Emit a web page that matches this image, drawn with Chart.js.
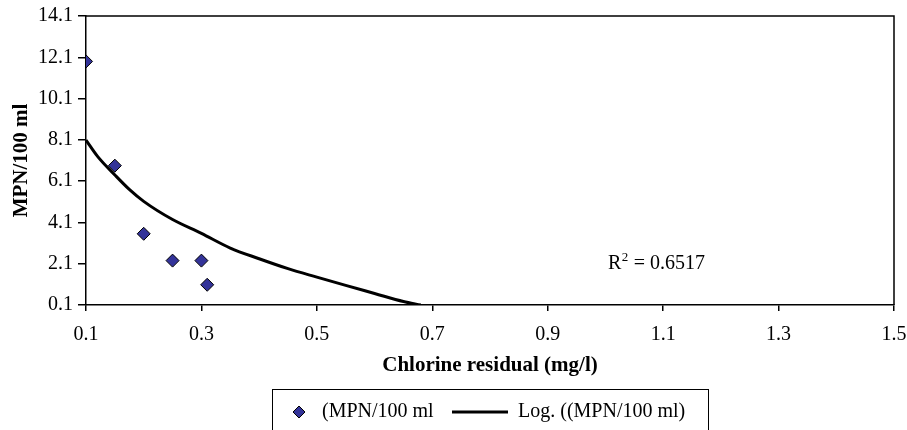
<!DOCTYPE html>
<html>
<head>
<meta charset="utf-8">
<script src="https://cdn.jsdelivr.net/npm/chart.js@4/dist/chart.umd.min.js"></script>
<style>
html,body{margin:0;padding:0;background:#fff;}
#wrap{width:907px;height:430px;position:relative;}
</style>
</head>
<body>
<div id="wrap"><canvas id="c" width="907" height="430"></canvas></div>
<script>
// ---- data ----
const chlorineResidual = [0.10, 0.15, 0.20, 0.25, 0.30, 0.31];
const mpnValues        = [11.9, 6.85, 3.55, 2.25, 2.25, 1.08];
const trendX = [0.10, 0.12, 0.15, 0.175, 0.20, 0.25, 0.30, 0.35, 0.40, 0.45, 0.50, 0.55, 0.60, 0.65, 0.68];
const trendY = [8.09, 7.30, 6.40, 5.70, 5.12, 4.24, 3.57, 2.86, 2.34, 1.86, 1.45, 1.05, 0.66, 0.27, 0.10];
const xTicks = [0.1, 0.3, 0.5, 0.7, 0.9, 1.1, 1.3, 1.5];
const yTicks = [0.1, 2.1, 4.1, 6.1, 8.1, 10.1, 12.1, 14.1];
const seriesLabel = '(MPN/100 ml';
const trendLabel = 'Log. ((MPN/100 ml)';
const rSquaredText = '0.6517';
const xTitle = 'Chlorine residual (mg/l)';
const yTitle = 'MPN/100 ml';

const SERIF = '"Liberation Serif", "Times New Roman", serif';
const MARKER = '#333399';

const framePlugin = {
  id: 'frame',
  afterDraw(chart) {
    const ctx = chart.ctx, a = chart.chartArea;
    ctx.save();
    ctx.strokeStyle = '#000';
    ctx.lineWidth = 1.5;
    ctx.beginPath();
    ctx.moveTo(a.left, a.top);
    ctx.lineTo(a.right, a.top);
    ctx.lineTo(a.right, a.bottom);
    ctx.stroke();

    // R^2 annotation
    ctx.fillStyle = '#000';
    ctx.textBaseline = 'alphabetic';
    ctx.textAlign = 'left';
    let x = 608, y = 269;
    ctx.font = '20px ' + SERIF;
    ctx.fillText('R', x, y);
    x += ctx.measureText('R').width;
    ctx.font = '13px ' + SERIF;
    ctx.fillText('2', x + 0.5, y - 8);
    x += ctx.measureText('2').width + 1;
    ctx.font = '20px ' + SERIF;
    ctx.fillText(' = ' + rSquaredText, x, y);

    // legend box
    ctx.lineWidth = 1;
    ctx.strokeStyle = '#000';
    ctx.strokeRect(272.5, 389.5, 436, 60);
    const ly = 412;
    // marker
    ctx.beginPath();
    ctx.moveTo(299 - 6, ly);
    ctx.lineTo(299, ly - 6);
    ctx.lineTo(299 + 6, ly);
    ctx.lineTo(299, ly + 6);
    ctx.closePath();
    ctx.fillStyle = MARKER;
    ctx.fill();
    ctx.strokeStyle = '#000';
    ctx.lineWidth = 1;
    ctx.stroke();
    ctx.fillStyle = '#000';
    ctx.font = '20px ' + SERIF;
    ctx.textBaseline = 'middle';
    ctx.fillText(chart.data.datasets[0].label, 322, ly);
    // line
    ctx.beginPath();
    ctx.lineWidth = 3;
    ctx.moveTo(452, ly);
    ctx.lineTo(508, ly);
    ctx.stroke();
    ctx.fillText(chart.data.datasets[1].label, 518, ly);
    ctx.restore();
  }
};

new Chart(document.getElementById('c'), {
  type: 'scatter',
  data: {
    datasets: [
      {
        label: seriesLabel,
        data: chlorineResidual.map((x, i) => ({x: x, y: mpnValues[i]})),
        pointStyle: 'rectRot',
        pointRadius: 6.5,
        pointHoverRadius: 6.5,
        backgroundColor: MARKER,
        borderColor: '#000',
        borderWidth: 1,
        order: 0
      },
      {
        label: trendLabel,
        data: trendX.map((x, i) => ({x: x, y: trendY[i]})),
        showLine: true,
        pointRadius: 0,
        borderColor: '#000',
        borderWidth: 3,
        cubicInterpolationMode: 'monotone',
        fill: false,
        order: 1
      }
    ]
  },
  options: {
    responsive: false,
    animation: false,
    devicePixelRatio: 1,
    layout: { padding: { top: 16, right: 13, bottom: 50, left: 0 } },
    plugins: {
      legend: { display: false },
      tooltip: { enabled: false }
    },
    scales: {
      x: {
        type: 'linear',
        min: 0.1, max: 1.5,
        afterBuildTicks: (s) => { s.ticks = xTicks.map(v => ({value: v})); },
        ticks: {
          color: '#000',
          font: { family: SERIF, size: 20 },
          padding: 12,
          maxRotation: 0,
          callback: (v) => Number(v).toFixed(1)
        },
        grid: { drawOnChartArea: false, drawTicks: true, tickLength: 6, color: '#000', lineWidth: 1.5 },
        border: { display: true, color: '#000', width: 1.5 },
        title: {
          display: true, text: xTitle, color: '#000',
          font: { family: SERIF, size: 21, weight: 'bold' },
          padding: { top: 0, bottom: 2 }
        },
        afterFit: (s) => { s.height = 75; s.paddingLeft = 0; s.paddingRight = 0; }
      },
      y: {
        type: 'linear',
        min: 0.1, max: 14.1,
        afterBuildTicks: (s) => { s.ticks = yTicks.map(v => ({value: v})); },
        ticks: {
          color: '#000',
          font: { family: SERIF, size: 20 },
          padding: 5,
          callback: (v) => Number(v).toFixed(1)
        },
        grid: { drawOnChartArea: false, drawTicks: true, tickLength: 8, color: '#000', lineWidth: 1.5 },
        border: { display: true, color: '#000', width: 1.5 },
        title: {
          display: true, text: yTitle, color: '#000',
          font: { family: SERIF, size: 21, weight: 'bold' },
          padding: { top: 9, bottom: 0 }
        },
        afterFit: (s) => { s.width = 86; s.paddingTop = 0; s.paddingBottom = 0; }
      }
    }
  },
  plugins: [framePlugin]
});
</script>
</body>
</html>
